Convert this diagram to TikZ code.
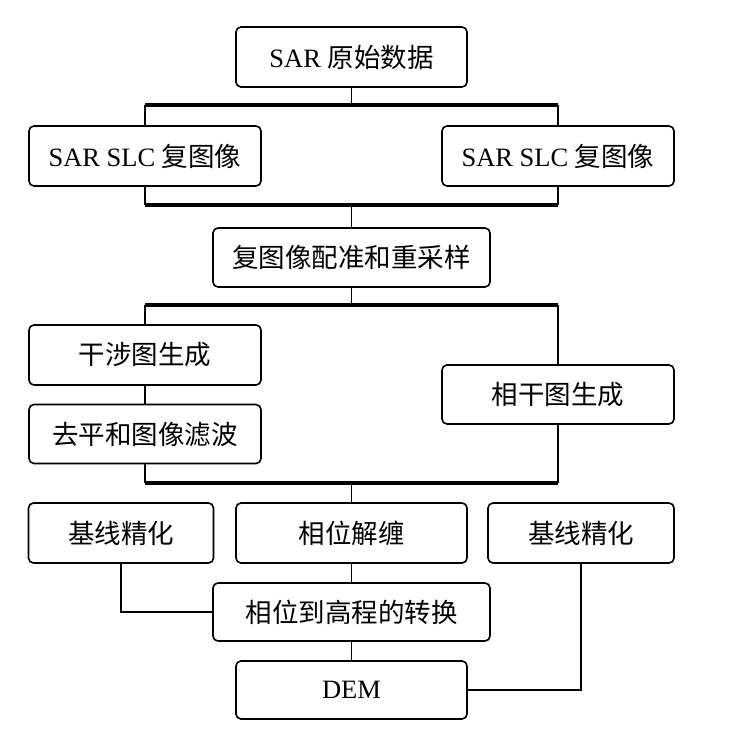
\documentclass[tikz,border=0pt]{standalone}
\usepackage{fontspec}
\setmainfont{Liberation Serif}
\newfontfamily\cjk{Noto Sans CJK SC}
\begin{document}
\begin{tikzpicture}[x=1pt,y=-1pt,
    box/.style={draw,rounded corners=5pt,line width=1.6pt,minimum width=232pt,minimum height=60pt,inner sep=0pt,font=\fontsize{26.5}{29}\selectfont},
    bus/.style={line width=3.6pt},
    link/.style={line width=1.2pt}]
    \useasboundingbox (0,0) rectangle (752,741);
    % boxes
    \node[box,minimum width=231pt] (raw) at (351.5,57) {SAR {\cjk 原始数据}};
    \node[box] (slcL) at (145,156) {SAR SLC {\cjk 复图像}};
    \node[box] (slcR) at (558,156) {SAR SLC {\cjk 复图像}};
    \node[box,minimum width=277pt,minimum height=59pt] (coreg) at (351.5,257.5) {\cjk 复图像配准和重采样};
    \node[box] (ifg) at (145,355) {\cjk 干涉图生成};
    \node[box,minimum height=59pt] (flat) at (145,434) {\cjk 去平和图像滤波};
    \node[box,minimum height=59pt] (coh) at (558,394.5) {\cjk 相干图生成};
    \node[box,minimum width=185pt] (baseL) at (121,533) {\cjk 基线精化};
    \node[box,minimum width=231pt] (unwrap) at (351.5,533) {\cjk 相位解缠};
    \node[box,minimum width=186pt] (baseR) at (581,533) {\cjk 基线精化};
    \node[box,minimum width=277pt,minimum height=58pt] (h2e) at (351.5,612) {\cjk 相位到高程的转换};
    \node[box,minimum width=231pt,minimum height=58pt] (dem) at (351.5,690) {DEM};
    % bus points
    \coordinate (b1) at (351.5,105);
    \coordinate (b2) at (351.5,205);
    \coordinate (b3) at (351.5,305);
    \coordinate (b4) at (351.5,483);
    \draw[link] (raw) -- (b1);
    \draw[bus] (slcL |- b1) -- (slcR |- b1);
    \draw[link] (slcL |- b1) -- (slcL);
    \draw[link] (slcR |- b1) -- (slcR);
    \draw[link] (slcL) -- (slcL |- b2);
    \draw[link] (slcR) -- (slcR |- b2);
    \draw[bus] (slcL |- b2) -- (slcR |- b2);
    \draw[link] (b2) -- (coreg);
    \draw[link] (coreg) -- (b3);
    \draw[bus] (ifg |- b3) -- (coh |- b3);
    \draw[link] (ifg |- b3) -- (ifg);
    \draw[link] (coh |- b3) -- (coh);
    \draw[link] (ifg) -- (flat);
    \draw[link] (flat) -- (flat |- b4);
    \draw[link] (coh) -- (coh |- b4);
    \draw[bus] (flat |- b4) -- (coh |- b4);
    \draw[link] (b4) -- (unwrap);
    \draw[link] (unwrap) -- (h2e);
    \draw[link] (h2e) -- (dem);
    \draw[link] (baseL) |- (h2e);
    \draw[link] (baseR) |- (dem);
\end{tikzpicture}
\end{document}
